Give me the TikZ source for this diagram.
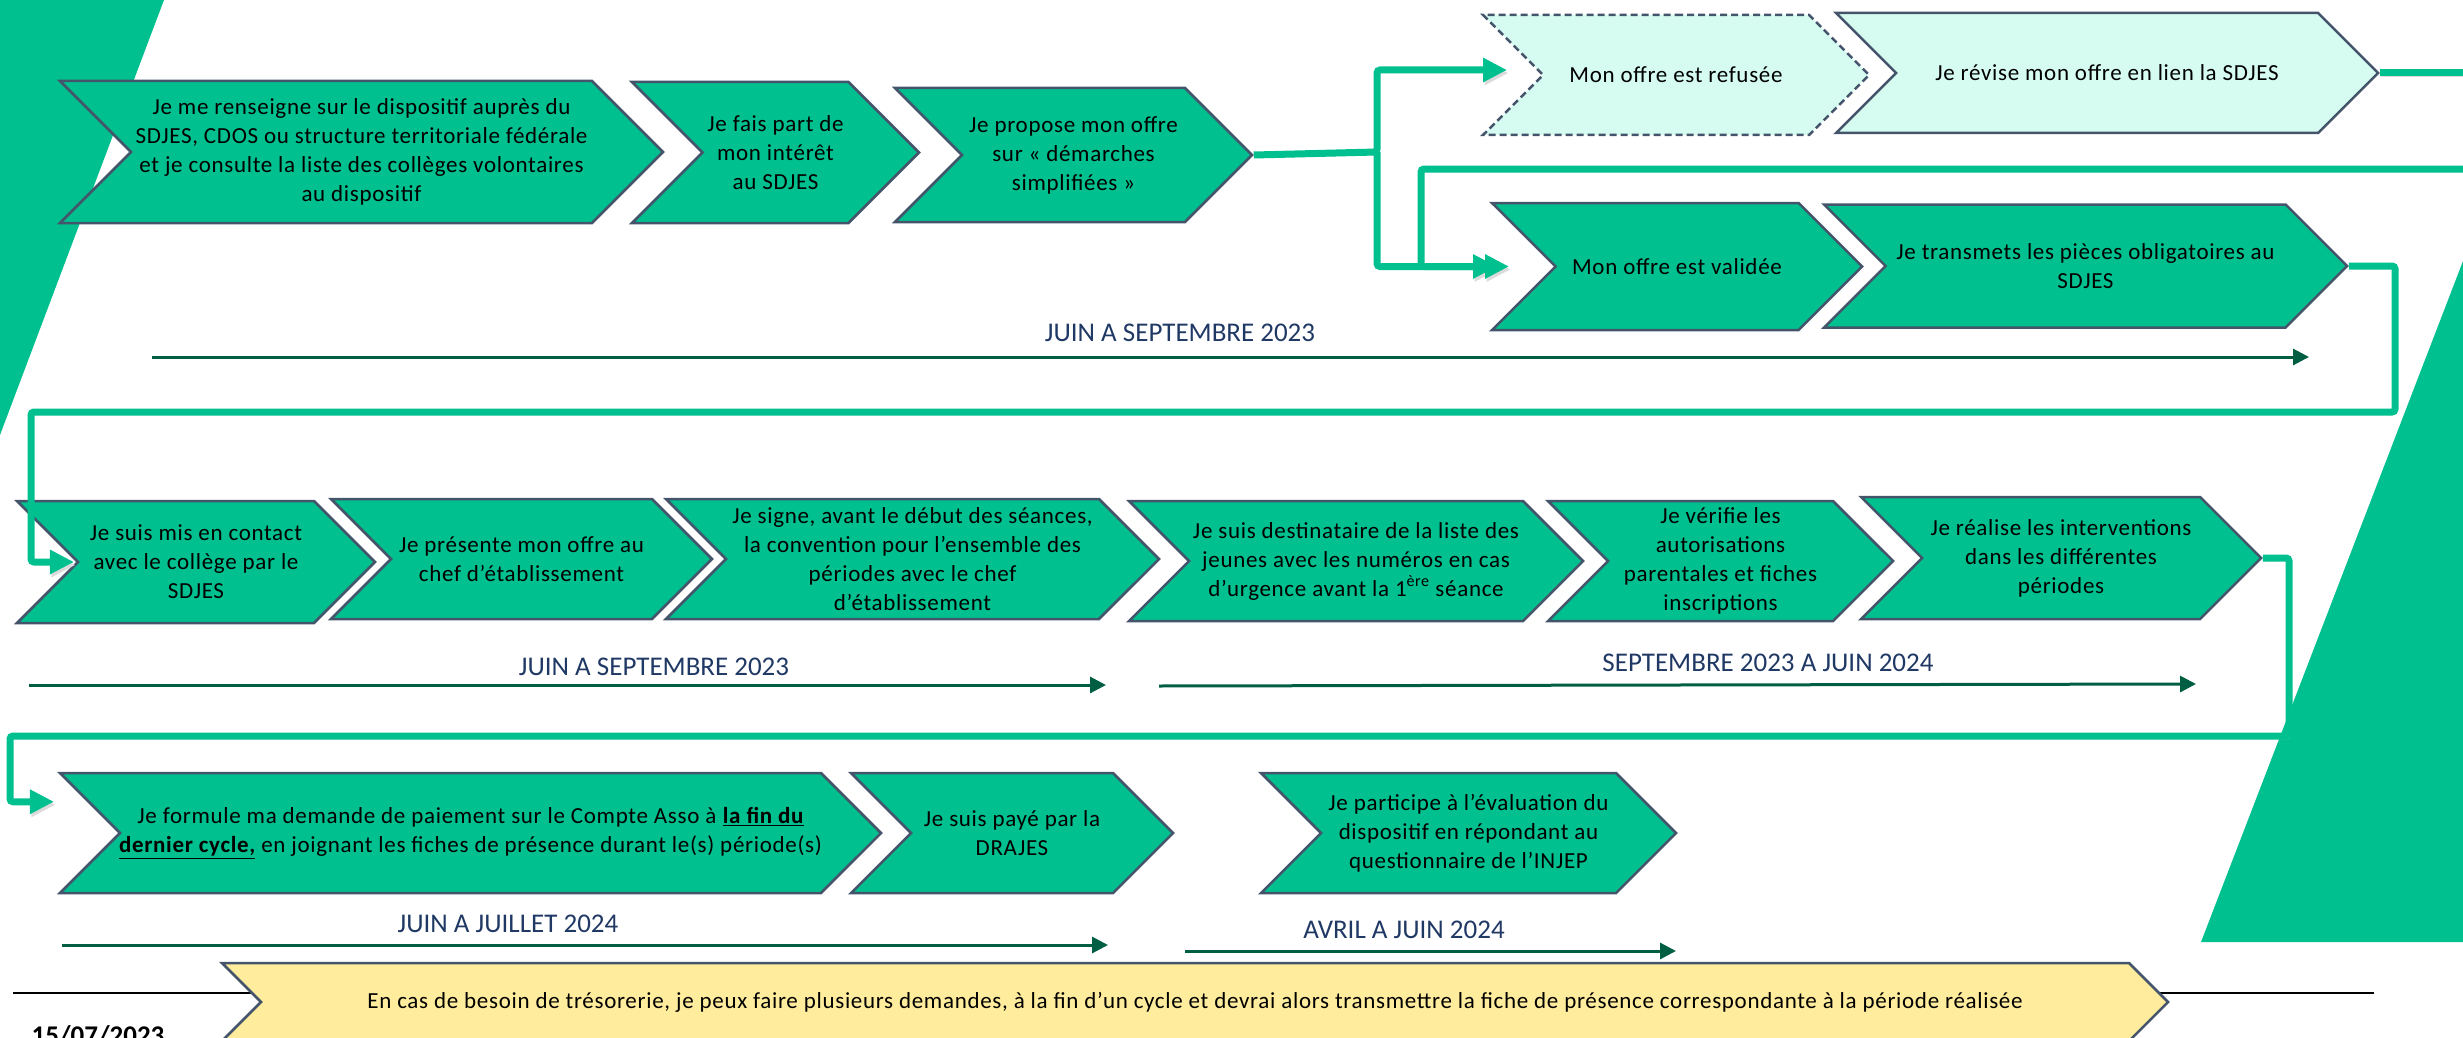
\documentclass[tikz,border=0pt]{standalone}
\usepackage{fontspec}
\setmainfont{Carlito}
\newfontfamily\stepfont[LetterSpace=3]{Carlito}
\usepackage{tikz}
\usetikzlibrary{arrows.meta,shapes.symbols,calc}
\definecolor{stepgreen}{RGB}{0,192,143}
\definecolor{paleteal}{RGB}{214,252,242}
\definecolor{paleyellow}{RGB}{255,236,156}
\definecolor{edgegray}{RGB}{68,84,106}
\definecolor{timegreen}{RGB}{0,94,66}
\definecolor{timeblue}{RGB}{31,56,100}
\tikzstyle{stepbox}=[signal,signal from=west,signal to=east,draw=edgegray,line width=2.5pt,fill=stepgreen,inner ysep=0pt,inner xsep=-40pt,align=center,font=\stepfont\fontsize{23}{29}\selectfont]
\tikzstyle{refused box}=[stepbox,fill=paleteal,dash pattern=on 7pt off 4pt]
\tikzstyle{revise box}=[stepbox,fill=paleteal]
\tikzstyle{cash box}=[stepbox,fill=paleyellow]
\tikzstyle{flow}=[draw=stepgreen,line width=7pt,rounded corners=3pt,-{Triangle[length=24pt,width=23pt]},
    preaction={draw=black!14,transform canvas={xshift=1.5pt,yshift=-3pt}}]
\tikzstyle{period}=[draw=timegreen,line width=3pt,-{Triangle[length=16pt,width=16pt]}]
\tikzstyle{period label}=[text=timeblue,font=\fontsize{27}{30}\selectfont]

\begin{document}
\begin{tikzpicture}[x=1pt,y=-1pt]
    \useasboundingbox (0,0) rectangle (2463,1038);
    \clip (0,0) rectangle (2463,1038);
    % slide decoration
    \fill[stepgreen] (0,0) -- (164,0) -- (0,435) -- cycle;
    \fill[stepgreen] (2463,261) -- (2201,942) -- (2463,942) -- cycle;
    \draw[black,line width=2.5pt] (13,993) -- (252,993);
    \draw[black,line width=2.5pt] (2159,993) -- (2374,993);
    \node[font=\bfseries\fontsize{27}{30}\selectfont,inner sep=0pt,anchor=north] (date) at (98,1025) {15/07/2023};

    % periods under each row
    \foreach \xa/\ya/\xb/\yb/\xt/\yt/\name/\txt in {152/357/2309/357/1180/333/juinsept/JUIN A SEPTEMBRE 2023,
        29/685/1106/685/654/667/juinsepttwo/JUIN A SEPTEMBRE 2023,
        1159/686/2196/684/1768/663/septjuin/SEPTEMBRE 2023 A JUIN 2024,
        62/945/1108/945/508/924/juinjuil/JUIN A JUILLET 2024,
        1185/951/1676/951/1404/930/avriljuin/AVRIL A JUIN 2024}
    {
        \coordinate (\name-from) at (\xa,\ya);
        \coordinate (\name-till) at (\xb,\yb);
        \draw[period] (\name-from) -- (\name-till);
        \node[period label] (\name) at (\xt,\yt) {\txt};
    }

    % first row
    \node[stepbox,minimum width=603pt,minimum height=142pt] (renseigne) at (361.5,152) {Je me renseigne sur le dispositif auprès du\\SDJES, CDOS ou structure territoriale fédérale\\et je consulte la liste des collèges volontaires\\au dispositif};
    \node[stepbox,minimum width=287pt,minimum height=141pt] (interet) at (775.5,152.5) {Je fais part de\\mon intérêt\\au SDJES};
    \node[stepbox,minimum width=357pt,minimum height=134pt] (propose) at (1073.5,155) {Je propose mon offre\\sur « démarches\\simplifiées »};
    \node[refused box,minimum width=386pt,minimum height=120pt] (refusee) at (1676,75) {Mon offre est refusée};
    \node[revise box,minimum width=542pt,minimum height=120pt] (revise) at (2107,73) {Je révise mon offre en lien la SDJES};
    \node[stepbox,minimum width=370pt,minimum height=127pt] (validee) at (1677,266.5) {Mon offre est validée};
    \node[stepbox,minimum width=523pt,minimum height=123pt] (transmets) at (2085.5,266) {Je transmets les pièces obligatoires au\\SDJES};

    % second row
    \node[stepbox,minimum width=358pt,minimum height=122pt] (contact) at (196,562) {Je suis mis en contact\\avec le collège par le\\SDJES};
    \node[stepbox,minimum width=381pt,minimum height=120pt] (presente) at (521.5,559) {Je présente mon offre au\\chef d’établissement};
    \node[stepbox,minimum width=493pt,minimum height=120pt] (convention) at (912.5,559) {Je signe, avant le début des séances,\\la convention pour l’ensemble des\\périodes avec le chef\\d’établissement};
    \node[stepbox,minimum width=454pt,minimum height=120pt] (liste) at (1356,561) {Je suis destinataire de la liste des\\jeunes avec les numéros en cas\\d’urgence avant la 1\textsuperscript{ère} séance};
    \node[stepbox,minimum width=345pt,minimum height=120pt] (autorisations) at (1720.5,561) {Je vérifie les\\autorisations\\parentales et fiches\\inscriptions};
    \node[stepbox,minimum width=400pt,minimum height=122pt] (interventions) at (2061,558) {Je réalise les interventions\\dans les différentes\\périodes};

    % third row
    \node[stepbox,minimum width=821pt,minimum height=120pt] (paiement) at (470.5,833) {Je formule ma demande de paiement sur le Compte Asso à \textbf{\underline{la fin du}}\\\textbf{\underline{dernier cycle,}} en joignant les fiches de présence durant le(s) période(s)};
    \node[stepbox,minimum width=322pt,minimum height=120pt] (paye) at (1012,833) {Je suis payé par la\\DRAJES};
    \node[stepbox,minimum width=415pt,minimum height=120pt] (evaluation) at (1468.5,833) {Je participe à l’évaluation du\\dispositif en répondant au\\questionnaire de l’INJEP};
    \node[cash box,minimum width=1946pt,minimum height=78pt] (tresorerie) at (1195,1002) {En cas de besoin de trésorerie, je peux faire plusieurs demandes, à la fin d’un cycle et devrai alors transmettre la fiche de présence correspondante à la période réalisée};

    % connectors between the steps
    \coordinate (fork) at (1377,152);
    \coordinate (pageright) at (2475,0);
    \coordinate (loopin) at (2475,169);
    \coordinate (loopdown) at (1421,169);
    \coordinate (rowdrop) at (2395,412);
    \coordinate (rowback) at (31,412);
    \coordinate (lastdrop) at (2289,736);
    \coordinate (lastback) at (10,736);
    \draw[flow] (propose.east) -- (fork) |- ($(refusee.north west |- refusee.center)+(27,-5)$);
    \draw[flow] (fork) |- ($(validee.north west |- validee.center)+(8,0)$);
    \draw[flow,-] (revise.east) -- (revise.east -| pageright);
    \draw[flow] (loopin) -- (loopdown) |- ($(validee.north west |- validee.center)+(20,0)$);
    \draw[flow] (transmets.east) -| (rowdrop) -- (rowback) |- ($(contact.north west |- contact.center)+(60,0)$);
    \draw[flow] (interventions.east) -| (lastdrop) -- (lastback) |- ($(paiement.north west)+(-3,30)$);
\end{tikzpicture}
\end{document}
